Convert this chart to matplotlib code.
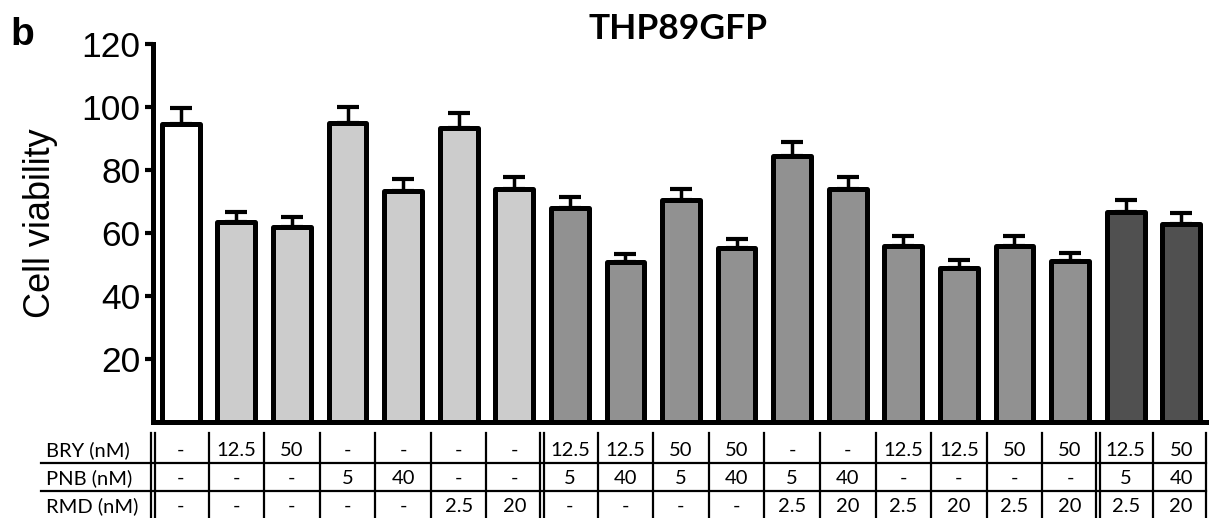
import matplotlib
matplotlib.use("Agg")
import matplotlib.pyplot as plt
from matplotlib.transforms import blended_transform_factory

values = [94.6, 63.5, 62.0, 95.0, 73.3, 93.3, 74.0, 68.0, 50.8, 70.5,
          55.2, 84.4, 74.0, 56.0, 49.0, 56.0, 51.0, 66.7, 63.0]
errors = [5.2, 3.2, 3.0, 5.0, 3.7, 4.7, 3.8, 3.4, 2.5, 3.5,
          2.8, 4.5, 3.8, 3.0, 2.5, 3.0, 2.7, 3.8, 3.3]
colors = ["#FFFFFF"] + ["#CCCCCC"] * 6 + ["#919191"] * 10 + ["#505050"] * 2

row_labels = ["BRY (nM)", "PNB (nM)", "RMD (nM)"]
bry = ["-", "12.5", "50", "-", "-", "-", "-", "12.5", "12.5", "50", "50",
       "-", "-", "12.5", "12.5", "50", "50", "12.5", "50"]
pnb = ["-", "-", "-", "5", "40", "-", "-", "5", "40", "5", "40",
       "5", "40", "-", "-", "-", "-", "5", "40"]
rmd = ["-", "-", "-", "-", "-", "2.5", "20", "-", "-", "-", "-",
       "2.5", "20", "2.5", "20", "2.5", "20", "2.5", "20"]
double_after = [-1, 6, 16]

W, H = 1209, 518
fig = plt.figure(figsize=(W / 100, H / 100), dpi=100)
ax = fig.add_axes([153 / W, 1 - 422 / H, 1 - 153 / W, (422 - 44) / H])

x = list(range(len(values)))
ax.errorbar(x, values, yerr=[[0] * len(values), errors], fmt="none",
            ecolor="black", elinewidth=2.5, capsize=8, capthick=3, zorder=1)
bars = ax.bar(x, values, width=0.68, color=colors, edgecolor="black",
              linewidth=3.6, zorder=2)
for b in bars:
    b.set_joinstyle("round")

ax.set_xlim(-0.5, len(values) - 0.5)
ax.set_ylim(0, 120)
ax.set_yticks([20, 40, 60, 80, 100, 120])
for s in ["top", "right"]:
    ax.spines[s].set_visible(False)
ax.spines["left"].set_linewidth(3.6)
ax.spines["bottom"].set_linewidth(3.6)
ax.set_xticks([])
ax.tick_params(axis="y", length=6, width=3, pad=3, labelsize=25.5,
               labelfontfamily="Liberation Sans")
ax.set_ylabel("Cell viability", fontsize=26, family="Liberation Sans")
ax.yaxis.set_label_coords((58 - 153) / (W - 153), 0.526)

fig.text(678 / W, 1 - 29 / H, "THP89GFP", ha="center", va="center",
         fontsize=25.5, fontweight="bold", family="Lato")
fig.text(10 / W, 1 - 35 / H, "b", ha="left", va="center",
         fontsize=28, fontweight="bold", family="Liberation Sans")

# table
tr = blended_transform_factory(ax.transData, fig.transFigure)
trf = fig.transFigure
row_y = [450, 478, 506]
top_y, bot_y = 433, 518
hlines = [463, 491]
for hy in hlines:
    fig.add_artist(plt.Line2D([41 / W, 1206 / W], [1 - hy / H, 1 - hy / H],
                              transform=trf, color="black", lw=1.6))
vpos = []
for b in range(-1, len(values) - 1):
    xb = b + 0.5
    if b in double_after:
        vpos += [xb - 0.036, xb + 0.036]
    else:
        vpos.append(xb)
vpos.append(len(values) - 0.555)
for xv in vpos:
    fig.add_artist(plt.Line2D([xv, xv], [1 - top_y / H, 1 - bot_y / H],
                              transform=tr, color="black", lw=1.6,
                              clip_on=False))
for ry, lab, row in zip(row_y, row_labels, [bry, pnb, rmd]):
    fig.text(46 / W, 1 - ry / H, lab, ha="left", va="center", fontsize=14.5,
             family="Lato")
    for i, t in enumerate(row):
        fig.text(i, 1 - ry / H, t, ha="center", va="center", fontsize=14.5,
                 family="Lato", transform=tr)

fig.savefig("out.png", dpi=100)
